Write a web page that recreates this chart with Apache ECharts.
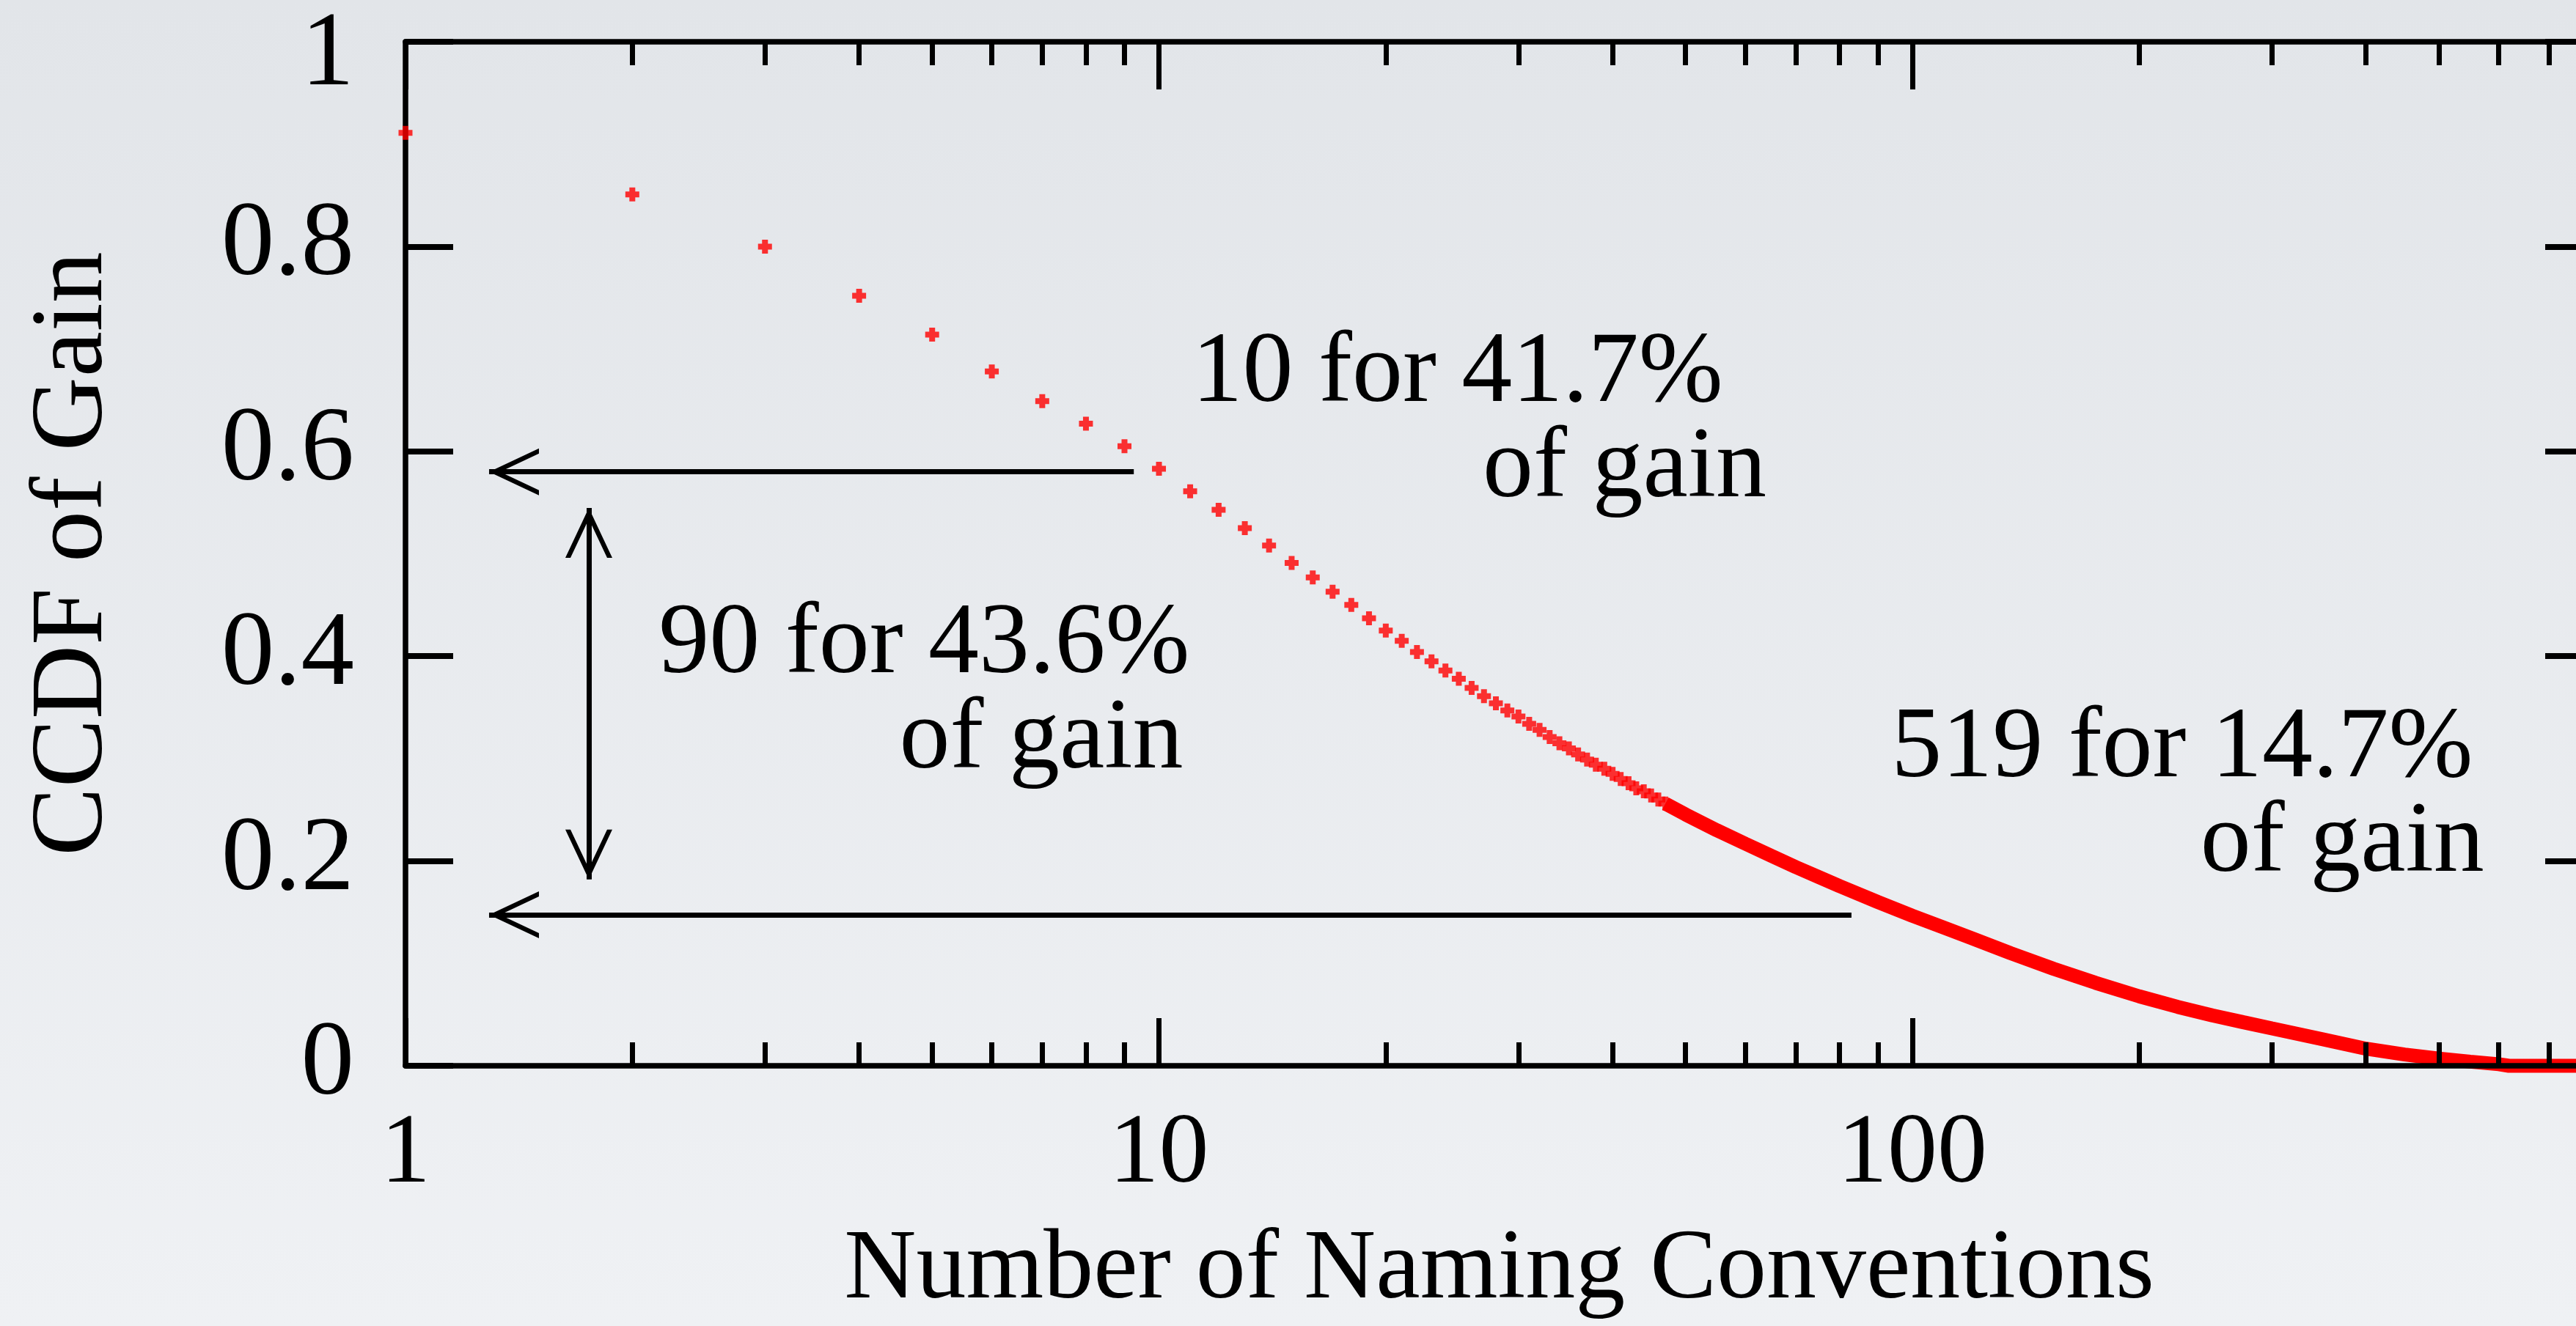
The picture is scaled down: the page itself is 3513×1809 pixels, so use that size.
<!DOCTYPE html>
<html><head><meta charset="utf-8">
<script src="https://cdn.jsdelivr.net/npm/echarts@6/dist/echarts.min.js"></script>
<style>html,body{margin:0;padding:0;overflow:hidden;background:#e8eaee}#c{width:3513px;height:1809px}</style>
</head><body><div id="c"></div>
<script>
// ---- data ----
const headN = [1,2,3,4,5,6,7,8,9,10,11,12,13,14,15,16,17,18,19,20,21,22,23,24,25,26,27,28,29,30,31,32,33,34,35,36,37,38,39,40,41,42,43,44,45,46,47];
const headGain = [0.911,0.851,0.800,0.752,0.714,0.678,0.649,0.627,0.605,0.583,0.561,0.543,0.525,0.508,0.491,0.477,0.463,0.450,0.437,0.425,0.415,0.404,0.395,0.386,0.378,0.369,0.361,0.354,0.347,0.341,0.334,0.328,0.321,0.315,0.310,0.304,0.299,0.294,0.290,0.285,0.280,0.276,0.271,0.268,0.264,0.260,0.256];
const tailN = [47,50,55,60,65,70,75,80,90,100,110,120,135,154,175,200,225,250,275,300,350,400,450,500,550,600,619,700,800];
const tailGain = [0.256,0.2454,0.230,0.2169,0.205,0.1941,0.1845,0.1755,0.1599,0.1465,0.135,0.1245,0.110,0.0947,0.081,0.0678,0.0575,0.0492,0.0425,0.0365,0.026,0.0167,0.011,0.007,0.004,0.0015,0,0,0];
const xMajorTicks = [1,10,100];
const xMinorTicks = [2,3,4,5,6,7,8,9,20,30,40,50,60,70,80,90,200,300,400,500,600,700];
const yMin = 0, yMax = 1, yStep = 0.2;
const annoText = ['10 for 41.7%','of gain','90 for 43.6%','of gain','519 for 14.7%','of gain'];
const annoX = [24.9,41.5,4.88,6.98,228,372];
const annoY = [0.675,0.582,0.410,0.317,0.309,0.216];
// arrows: [x1,y1,x2,y2]
const arrowLeftTop = [9.26,0.58,1.291,0.58];
const arrowLeftBottom = [83.0,0.1475,1.291,0.1475];
const arrowVertical = [1.751,0.5447,1.751,0.182];

const FONT = 'Liberation Serif';
const plus = 'path://M5.5,0H13.5V5.5H19V13.5H13.5V19H5.5V13.5H0V5.5H5.5Z';
const chevron = 'path://M32,-68L32.01,-68L32,-68ZM32,0L64,68L57,68L32,15L7,68L0,68Z';

const chart = echarts.init(document.getElementById('c'));
const axisLine = {show:true, lineStyle:{color:'#000', width:7.5}};
function xAx(pos, ticks, len, showLine, showLabel){
  return {type:'log', logBase:10, min:1, max:800, position:pos, gridIndex:0, z:10,
    axisLine: showLine ? axisLine : {show:false},
    axisTick:{show:true, inside:true, length:len, customValues:ticks, lineStyle:{color:'#000', width:7}},
    axisLabel: showLabel ? {show:true, customValues:xMajorTicks, margin:54, color:'#000', fontFamily:FONT, fontSize:136} : {show:false},
    splitLine:{show:false}, minorTick:{show:false}};
}
const markAnno = annoText.map((t,i)=>({name:t, coord:[annoX[i], annoY[i]]}));
const arrowData = [arrowLeftTop, arrowLeftBottom].map(a=>[{coord:[a[0],a[1]]},{coord:[a[2],a[3]]}]);
const option = {
  animation:false,
  backgroundColor:{type:'linear', x:0, y:0, x2:0, y2:1, colorStops:[{offset:0,color:'#e2e5e9'},{offset:1,color:'#eff1f4'}]},
  grid:{left:553, top:57, width:2983, height:1397, containLabel:false, outerBoundsMode:'none'},
  xAxis:[
    Object.assign(xAx('bottom', xMajorTicks, 65, true, true), {name:'Number of Naming Conventions', nameLocation:'middle', nameGap:212, nameTextStyle:{color:'#000', fontFamily:FONT, fontSize:136}}),
    xAx('bottom', xMinorTicks, 32, false, false),
    xAx('top', xMajorTicks, 65, true, false),
    xAx('top', xMinorTicks, 32, false, false)
  ],
  yAxis:[
    {type:'value', min:yMin, max:yMax, interval:yStep, position:'left', z:1,
     axisLine:axisLine, axisTick:{show:true, inside:true, length:65, lineStyle:{color:'#000', width:8}},
     axisLabel:{margin:70, color:'#000', fontFamily:FONT, fontSize:145,
       formatter:v => v === yMax ? '{top|' + v + '}' : String(v),
       rich:{top:{fontFamily:FONT, fontSize:145, color:'#000', lineHeight:185, verticalAlign:'bottom'}}},
     splitLine:{show:false},
     name:'CCDF of Gain', nameLocation:'middle', nameGap:382, nameTextStyle:{color:'#000', fontFamily:FONT, fontSize:140}},
    {type:'value', min:yMin, max:yMax, interval:yStep, position:'right', z:1,
     axisLine:axisLine, axisTick:{show:true, inside:true, length:65, lineStyle:{color:'#000', width:8}},
     axisLabel:{show:false}, splitLine:{show:false}}
  ],
  series:[
    {type:'line', xAxisIndex:0, yAxisIndex:0, data:tailN.map((n,i)=>[n, tailGain[i]]), showSymbol:false, symbol:'none', clip:false,
     lineStyle:{color:'#ff0000', width:19}, silent:true, z:2},
    {type:'scatter', xAxisIndex:0, yAxisIndex:0, data:headN.map((n,i)=>[n, headGain[i]]), symbol:plus, symbolSize:19,
     itemStyle:{color:'#ff0000'}, silent:true, z:3,
     markPoint:{symbol:'circle', symbolSize:0, silent:true, data:markAnno,
       label:{show:true, position:'inside', formatter:p=>p.name, color:'#000', fontFamily:FONT, fontSize:138}},
     markLine:{silent:true, symbol:['none', chevron], symbolSize:[64,136], label:{show:false},
       lineStyle:{color:'#000', width:7, type:'solid'}, emphasis:{disabled:true},
       data:arrowData.concat([[{coord:[arrowVertical[0],arrowVertical[1]], symbol:chevron},{coord:[arrowVertical[2],arrowVertical[3]]}]])}
    }
  ]
};
chart.setOption(option);
</script></body></html>
